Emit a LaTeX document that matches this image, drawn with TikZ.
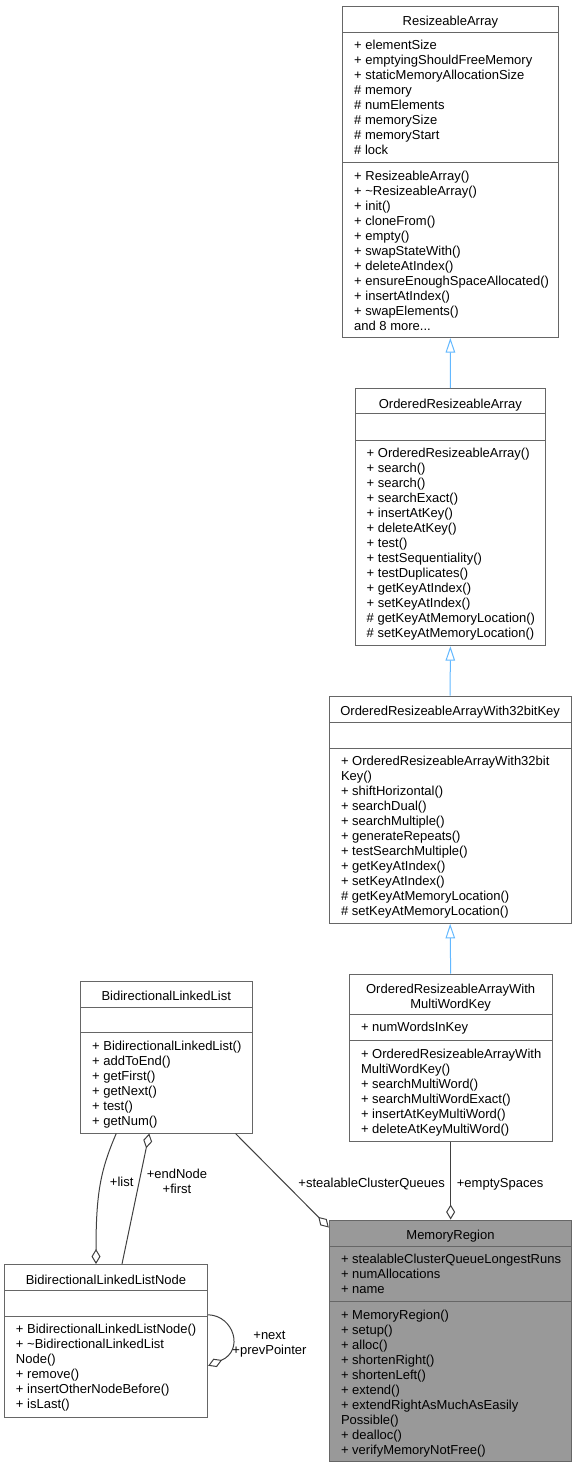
\documentclass[tikz,border=0pt]{standalone}
\usepackage{fontspec}
\setmainfont{Liberation Sans}
\usetikzlibrary{arrows.meta}
\definecolor{boxgray}{HTML}{666666}
\definecolor{focusfill}{HTML}{999999}
\definecolor{edgegray}{HTML}{404040}
\definecolor{inheritblue}{HTML}{63B8FF}
\begin{document}
\begin{tikzpicture}[x=1pt,y=-1pt,
  font=\fontsize{13}{15}\selectfont,
  classbox/.style={draw=boxgray,line width=1pt,inner sep=0pt},
  divider/.style={draw=boxgray,line width=1pt},
  classname/.style={anchor=base,align=center,inner sep=0pt},
  members/.style={anchor=base west,align=left,inner sep=0pt},
  role/.style={inner sep=0pt,align=center},
  inherit/.style={draw=inheritblue,line width=1pt,-{Triangle[open,length=14.5pt,width=9.5pt]}},
  aggr/.style={draw=edgegray,line width=1pt,-{Diamond[open,length=15pt,width=9pt]}}]
\useasboundingbox (0,0) rectangle (577,1468);
\node[classbox,minimum width=215.8pt,minimum height=331.5pt] (ra) at (450.4,171.75) {};
\draw[divider] (342.5,32) -- (558.3,32);
\draw[divider] (342.5,162.7) -- (558.3,162.7);
\node[classname] (ra-name) at (450.4,25.5) {ResizeableArray};
\node[members] (ra-attr) at (354,154.5) {+ elementSize\\+ emptyingShouldFreeMemory\\+ staticMemoryAllocationSize\\\# memory\\\# numElements\\\# memorySize\\\# memoryStart\\\# lock};
\node[members] (ra-ops) at (354,330.2) {+ ResizeableArray()\\+ \textasciitilde ResizeableArray()\\+ init()\\+ cloneFrom()\\+ empty()\\+ swapStateWith()\\+ deleteAtIndex()\\+ ensureEnoughSpaceAllocated()\\+ insertAtIndex()\\+ swapElements()\\and 8 more...};
\node[classbox,minimum width=190.7pt,minimum height=257pt] (ora) at (450.35,517.2) {};
\draw[divider] (355,413.7) -- (545.7,413.7);
\draw[divider] (355,440.3) -- (545.7,440.3);
\node[classname] (ora-name) at (450.35,408.2) {OrderedResizeableArray};
\node[members] (ora-ops) at (366.5,637.8) {+ OrderedResizeableArray()\\+ search()\\+ search()\\+ searchExact()\\+ insertAtKey()\\+ deleteAtKey()\\+ test()\\+ testSequentiality()\\+ testDuplicates()\\+ getKeyAtIndex()\\+ setKeyAtIndex()\\\# getKeyAtMemoryLocation()\\\# setKeyAtMemoryLocation()};
\node[classbox,minimum width=241.7pt,minimum height=227.3pt] (ora32) at (450.15,809.65) {};
\draw[divider] (329.3,722.3) -- (571,722.3);
\draw[divider] (329.3,748.3) -- (571,748.3);
\node[classname] (ora32-name) at (450.15,715.5) {OrderedResizeableArrayWith32bitKey};
\node[members] (ora32-ops) at (340.8,915.8) {+ OrderedResizeableArrayWith32bit\\Key()\\+ shiftHorizontal()\\+ searchDual()\\+ searchMultiple()\\+ generateRepeats()\\+ testSearchMultiple()\\+ getKeyAtIndex()\\+ setKeyAtIndex()\\\# getKeyAtMemoryLocation()\\\# setKeyAtMemoryLocation()};
\node[classbox,minimum width=202.7pt,minimum height=167.3pt] (oramw) at (450.65,1057.65) {};
\draw[divider] (349.3,1014.3) -- (552,1014.3);
\draw[divider] (349.3,1040.7) -- (552,1040.7);
\node[classname] (oramw-name) at (450.65,1008) {OrderedResizeableArrayWith\\MultiWordKey};
\node[members] (oramw-attr) at (360.8,1031.8) {+ numWordsInKey};
\node[members] (oramw-ops) at (360.8,1133.2) {+ OrderedResizeableArrayWith\\MultiWordKey()\\+ searchMultiWord()\\+ searchMultiWordExact()\\+ insertAtKeyMultiWord()\\+ deleteAtKeyMultiWord()};
\node[classbox,minimum width=171.5pt,minimum height=152pt] (bll) at (166.25,1057) {};
\draw[divider] (80.5,1007.3) -- (252,1007.3);
\draw[divider] (80.5,1032.5) -- (252,1032.5);
\node[classname] (bll-name) at (166.25,1000.5) {BidirectionalLinkedList};
\node[members] (bll-ops) at (92,1125) {+ BidirectionalLinkedList()\\+ addToEnd()\\+ getFirst()\\+ getNext()\\+ test()\\+ getNum()};
\node[classbox,minimum width=203.4pt,minimum height=152.5pt] (blln) at (106,1340.75) {};
\draw[divider] (4.3,1290.7) -- (207.7,1290.7);
\draw[divider] (4.3,1316) -- (207.7,1316);
\node[classname] (blln-name) at (106,1284) {BidirectionalLinkedListNode};
\node[members] (blln-ops) at (15.8,1408.5) {+ BidirectionalLinkedListNode()\\+ \textasciitilde BidirectionalLinkedList\\Node()\\+ remove()\\+ insertOtherNodeBefore()\\+ isLast()};
\node[classbox,fill=focusfill,minimum width=242.4pt,minimum height=241.7pt] (mr) at (450.5,1340.85) {};
\draw[divider] (329.3,1246) -- (571.7,1246);
\draw[divider] (329.3,1301.7) -- (571.7,1301.7);
\node[classname] (mr-name) at (450.5,1239.5) {MemoryRegion};
\node[members] (mr-attr) at (340.8,1293.5) {+ stealableClusterQueueLongestRuns\\+ numAllocations\\+ name};
\node[members] (mr-ops) at (340.8,1454.2) {+ MemoryRegion()\\+ setup()\\+ alloc()\\+ shortenRight()\\+ shortenLeft()\\+ extend()\\+ extendRightAsMuchAsEasily\\Possible()\\+ dealloc()\\+ verifyMemoryNotFree()};
\draw[inherit] (ora.north) -- (ra.south);
\draw[inherit] (ora32.north) -- (ora.south);
\draw[inherit] (oramw.north) -- (ora32.south);
\draw[aggr] (oramw.south) -- (oramw.south |- mr.north);
\draw[aggr] ([xshift=-17pt]bll.south east) -- ([yshift=-8pt]mr.north west);
\draw[aggr] ([xshift=-50pt]bll.south) .. controls +(-16,37) and +(0,-70) .. ([xshift=-10pt]blln.north);
\draw[aggr] ([xshift=16pt]blln.north) -- ([xshift=-17pt]bll.south);
\draw[aggr] ([yshift=26pt]blln.east) .. controls +(26,1) and +(36,-15) .. ([yshift=-25pt]blln.east);
\node[role,anchor=base] (list-role) at (121.7,1186.4) {+list};
\node[role,anchor=base] (first-role) at (177,1193.5) {+endNode\\+first};
\node[role,anchor=base east] (queues-role) at (445,1187) {+stealableClusterQueues};
\node[role,anchor=base west] (spaces-role) at (456.7,1187) {+emptySpaces};
\node[role,anchor=base] (next-role) at (269.5,1354.5) {+next\\+prevPointer};
\end{tikzpicture}
\end{document}
